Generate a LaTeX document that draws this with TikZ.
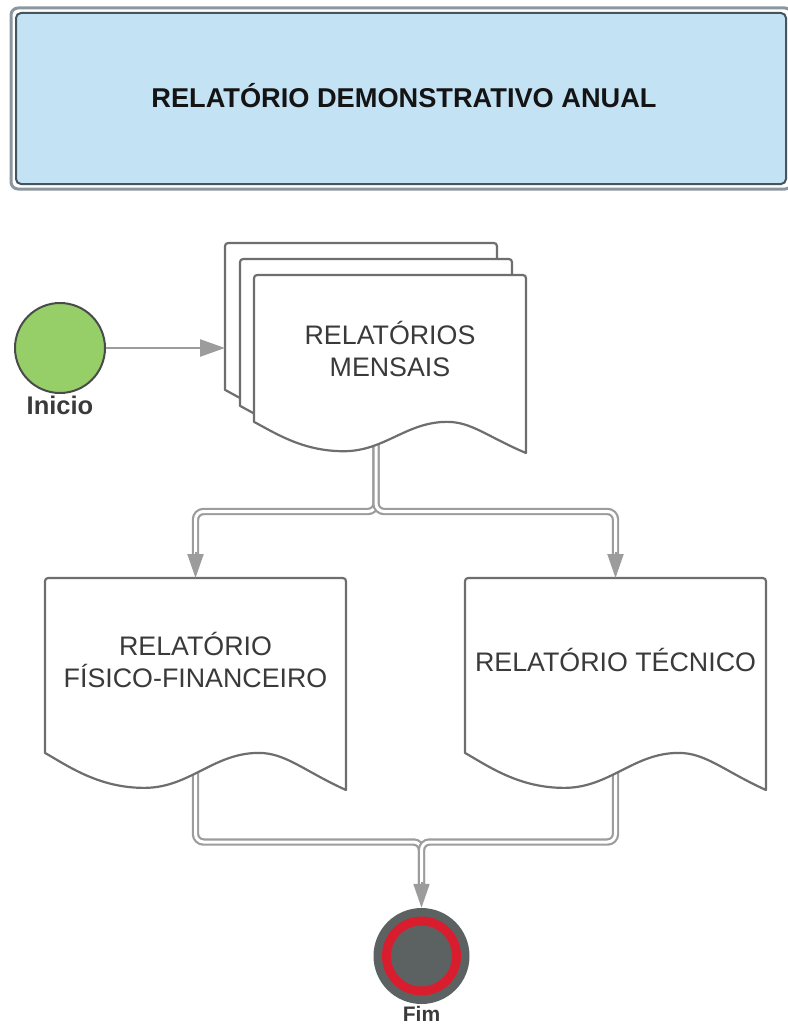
\documentclass[tikz,border=0pt]{standalone}
\usepackage{fontspec}
\setmainfont{Liberation Sans}
\usetikzlibrary{calc,arrows.meta}

\definecolor{titlefill}{HTML}{C3E2F4}
\definecolor{titleedge}{HTML}{46545D}
\definecolor{titlerim}{HTML}{8A979F}
\definecolor{docedge}{HTML}{6E6E6E}
\definecolor{linkgray}{HTML}{9C9C9C}
\definecolor{startgreen}{HTML}{96CF68}
\definecolor{circleedge}{HTML}{4A4A4A}
\definecolor{endgray}{HTML}{5C6262}
\definecolor{endred}{HTML}{D81E2E}
\definecolor{labeltext}{HTML}{3A3A3A}

% outline of a flowchart "document" symbol filling the frame of node #1
\newcommand\docoutline[1]{%
  \filldraw[docline] let \p1=(#1.north west), \p2=(#1.south east),
      \n1={\x2-\x1}, \n2={\y1-\y2} in
    (\x1,{\y1-0.825*\n2}) -- (\x1,{\y1-7pt}) .. controls (\x1,\y1) .. ({\x1+7pt},\y1)
    -- ({\x2-7pt},\y1) .. controls (\x2,\y1) .. (\x2,{\y1-7pt})
    -- (\x2,\y2)
    .. controls ({\x1+0.86*\n1},{\y1-0.91*\n2}) and ({\x1+0.80*\n1},{\y1-0.825*\n2}) .. ({\x1+0.71*\n1},{\y1-0.825*\n2})
    .. controls ({\x1+0.56*\n1},{\y1-0.825*\n2}) and ({\x1+0.48*\n1},{\y1-0.99*\n2}) .. ({\x1+0.33*\n1},{\y1-0.99*\n2})
    .. controls ({\x1+0.18*\n1},{\y1-0.99*\n2}) and ({\x1+0.08*\n1},{\y1-0.89*\n2}) .. (\x1,{\y1-0.825*\n2})
    -- cycle;}

\tikzset{
  docframe/.style={rectangle, inner sep=0pt, outer sep=0pt},
  docline/.style={draw=docedge, fill=white, line width=2.2pt, line join=round},
  doctext/.style={text=labeltext, align=center, font=\fontsize{26.8}{32.5}\selectfont},
  link/.style={draw=linkgray, double=white, double distance=3pt, line width=2.2pt, rounded corners=8pt},
  linktip/.style={draw=linkgray, line width=2pt, -{Triangle[length=24pt,width=16pt,fill=linkgray]}},
  caption/.style={text=labeltext, anchor=base, font=\bfseries\fontsize{25.5}{30}\selectfont},
}

\begin{document}
\begin{tikzpicture}[x=1pt, y=-1pt]
\useasboundingbox (0,0) rectangle (787,1025);

% banner
\draw[titlerim, line width=3pt, rounded corners=7pt] (11,8) rectangle (792,189);
\node[rectangle, fill=titlefill, draw=titleedge, line width=2pt, rounded corners=5pt,
      minimum width=770pt, minimum height=171pt, inner sep=0pt] (banner) at (401,98.5) {};
\node[text=black!92, font=\bfseries\fontsize{27.2}{32}\selectfont] (title) at (404,95.5)
  {RELATÓRIO DEMONSTRATIVO ANUAL};

% frames of the document symbols
\node[docframe, minimum width=272pt, minimum height=178pt] (mback) at (361,332) {};
\node[docframe, minimum width=272pt, minimum height=178pt] (mmid) at (376,348) {};
\node[docframe, minimum width=272pt, minimum height=178pt] (mensais) at (390,364) {};
\node[docframe, minimum width=301pt, minimum height=212pt] (fis) at (195.5,684) {};
\node[docframe, minimum width=301pt, minimum height=212pt] (tec) at (615.5,684) {};

% start and end events
\node[circle, fill=startgreen, draw=circleedge, line width=2pt, minimum size=90pt, inner sep=0pt] (ini) at (60,348) {};
\node[caption] (inilabel) at (60,414) {Inicio};
\node[circle, fill=endgray, minimum size=96pt, inner sep=0pt] (fim) at (421.5,956) {};
\draw[endred, line width=9pt] (fim.center) circle[radius=35pt];
\node[caption, font=\bfseries\fontsize{21}{25}\selectfont] (fimlabel) at (421.5,1021.5) {Fim};

% branching points
\coordinate (split) at (376,511.5);
\coordinate (merge) at (421.5,842);

% double connectors
\draw[link, shorten >=24pt] (mmid.center) -- (split) -| (fis.north);
\draw[link, shorten >=24pt] (mmid.center) -- (split) -| (tec.north);
\draw[link, shorten >=24pt] (fis.center) |- (merge) -- (fim.north);
\draw[link, shorten >=24pt] (tec.center) |- (merge) -- (fim.north);

% document symbols
\docoutline{mback}
\docoutline{mmid}
\docoutline{mensais}
\docoutline{fis}
\docoutline{tec}

\node[doctext] (mensaistext) at (390,349) {RELATÓRIOS\\MENSAIS};
\node[doctext] (fistext) at (195.5,660) {RELATÓRIO\\FÍSICO-FINANCEIRO};
\node[doctext] (tectext) at (615.5,660) {RELATÓRIO TÉCNICO};

% arrow heads
\draw[linktip] ([yshift=26pt]fis.north) -- (fis.north);
\draw[linktip] ([yshift=26pt]tec.north) -- (tec.north);
\draw[linktip] ([yshift=26pt]fim.north) -- (fim.north);
\draw[draw=linkgray, line width=2.5pt, -{Triangle[length=25pt,width=17pt,fill=linkgray]}]
  (ini) -- (ini.east -| mback.west);
\end{tikzpicture}
\end{document}
